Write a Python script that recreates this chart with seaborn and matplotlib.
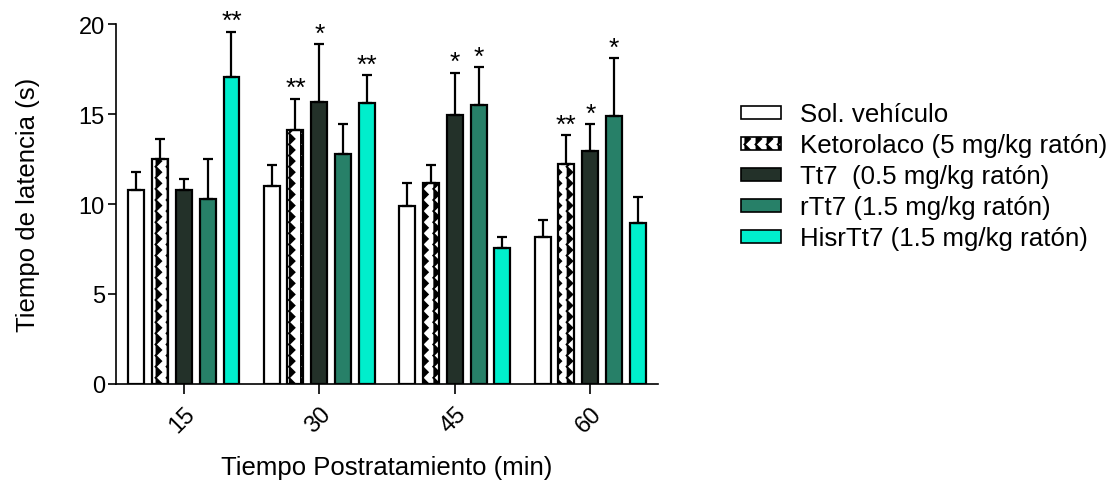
import warnings
import numpy as np
import pandas as pd
import matplotlib
matplotlib.use("Agg")
import matplotlib.pyplot as plt
from matplotlib.patches import Patch
from matplotlib.path import Path
from matplotlib import hatch as mhatch
import seaborn as sns

warnings.filterwarnings("ignore")

# Latency times (s) per treatment at each post-treatment time
times = ["15", "30", "45", "60"]
groups = [
    "Sol. vehículo",
    "Ketorolaco (5 mg/kg ratón)",
    "Tt7  (0.5 mg/kg ratón)",
    "rTt7 (1.5 mg/kg ratón)",
    "HisrTt7 (1.5 mg/kg ratón)",
]
vehiculo = [10.76, 11.02, 9.87, 8.15]
ketorolaco = [12.52, 14.13, 11.15, 12.24]
tt7 = [10.80, 15.67, 14.96, 12.96]
rtt7 = [10.26, 12.78, 15.48, 14.91]
hisrtt7 = [17.04, 15.59, 7.56, 8.93]

# Upper error (SEM)
err_vehiculo = [1.02, 1.16, 1.31, 0.98]
err_ketorolaco = [1.08, 1.72, 1.03, 1.59]
err_tt7 = [0.59, 3.22, 2.34, 1.48]
err_rtt7 = [2.26, 1.68, 2.11, 3.18]
err_hisrtt7 = [2.53, 1.58, 0.61, 1.48]

# Significance marks
sig_vehiculo = ["", "", "", ""]
sig_ketorolaco = ["", "**", "", "**"]
sig_tt7 = ["", "*", "*", "*"]
sig_rtt7 = ["", "", "*", "*"]
sig_hisrtt7 = ["**", "**", "", ""]

colors = ["#FFFFFF", "#FFFFFF", "#233129", "#278068", "#00EECC"]

values = [vehiculo, ketorolaco, tt7, rtt7, hisrtt7]
errors = [err_vehiculo, err_ketorolaco, err_tt7, err_rtt7, err_hisrtt7]
sigs = [sig_vehiculo, sig_ketorolaco, sig_tt7, sig_rtt7, sig_hisrtt7]


class ZigZagHatch(mhatch.HatchPatternBase):
    """Vertical zigzag columns at 45 degrees, selected with the 'z' character."""

    def __init__(self, hatch, density):
        self.num_cols = int(hatch.count("z") * density * 0.75)
        self.num_steps = 2 * self.num_cols
        self.points_per_col = self.num_steps + 1
        self.num_vertices = self.num_cols * self.points_per_col

    def set_vertices_and_codes(self, vertices, codes):
        n = self.num_cols
        ys = np.linspace(0.0, 1.0, self.points_per_col)
        offs = (np.arange(self.points_per_col) % 2) * (0.5 / n)
        for j in range(n):
            start = j * self.points_per_col
            sl = slice(start, start + self.points_per_col)
            vertices[sl, 0] = j / n + offs
            vertices[sl, 1] = ys
            codes[sl] = Path.LINETO
            codes[start] = Path.MOVETO


mhatch._hatch_types.append(ZigZagHatch)

rows = []
for g, vals in zip(groups, values):
    for t, v in zip(times, vals):
        rows.append({"Tiempo": t, "Grupo": g, "Latencia": v})
df = pd.DataFrame(rows)

sns.set_theme(style="ticks", rc={
    "text.color": "black", "axes.labelcolor": "black",
    "xtick.color": "black", "ytick.color": "black",
    "axes.edgecolor": "black",
})
plt.rcParams["font.family"] = ["Liberation Sans", "DejaVu Sans"]
plt.rcParams["hatch.linewidth"] = 1.4

fig = plt.figure(figsize=(11.16, 4.81), dpi=100)
ax = fig.add_axes([0.104, 0.1996, 0.4856, 0.7484])

sns.barplot(
    data=df, x="Tiempo", y="Latencia", hue="Grupo",
    order=times, hue_order=groups, palette=colors, saturation=1,
    errorbar=None, width=0.88, gap=0.33, dodge=True,
    edgecolor="black", linewidth=1.6, legend=False, ax=ax,
)

HATCH = "zz"
for hidx, (cont, errs, marks) in enumerate(zip(ax.containers, errors, sigs)):
    for bar, e, m in zip(cont.patches, errs, marks):
        if hidx == 1:
            bar.set_hatch(HATCH)
        x = bar.get_x() + bar.get_width() / 2
        h = bar.get_height()
        ax.errorbar(x, h, yerr=[[0], [e]], fmt="none", ecolor="black",
                    elinewidth=1.6, capsize=3.6, capthick=1.6, zorder=1)
        if m:
            ax.text(x, h + e - 0.08, m, ha="center", va="bottom",
                    fontsize=19, color="black")

ax.set_ylim(0, 20)
ax.set_xlim(-0.5, 3.5)
ax.set_yticks([0, 5, 10, 15, 20])
ax.set_ylabel("Tiempo de latencia (s)", fontsize=18.5, labelpad=28)
ax.set_xlabel("Tiempo Postratamiento (min)", fontsize=18.5, labelpad=13)
ax.tick_params(axis="y", labelsize=17, length=6, width=1.2, direction="out", pad=2)
ax.tick_params(axis="x", labelsize=17, length=7.5, width=1.2, direction="out", pad=6)
for lbl in ax.get_xticklabels():
    lbl.set_rotation(45)
    lbl.set_ha("right")
    lbl.set_rotation_mode("anchor")

sns.despine(ax=ax)
for side in ("left", "bottom"):
    ax.spines[side].set_linewidth(1.2)

handles = []
for i, (g, c) in enumerate(zip(groups, colors)):
    handles.append(Patch(facecolor=c, edgecolor="black", linewidth=1.2,
                         hatch=HATCH if i == 1 else None, label=g))
fig.legend(handles=handles, loc="upper left", bbox_to_anchor=(0.664, 0.785),
           frameon=False, fontsize=18.6, handlelength=1.55, handleheight=0.4,
           handletextpad=0.75, labelspacing=0.27, borderaxespad=0, borderpad=0)

fig.savefig("out.png", dpi=100)
